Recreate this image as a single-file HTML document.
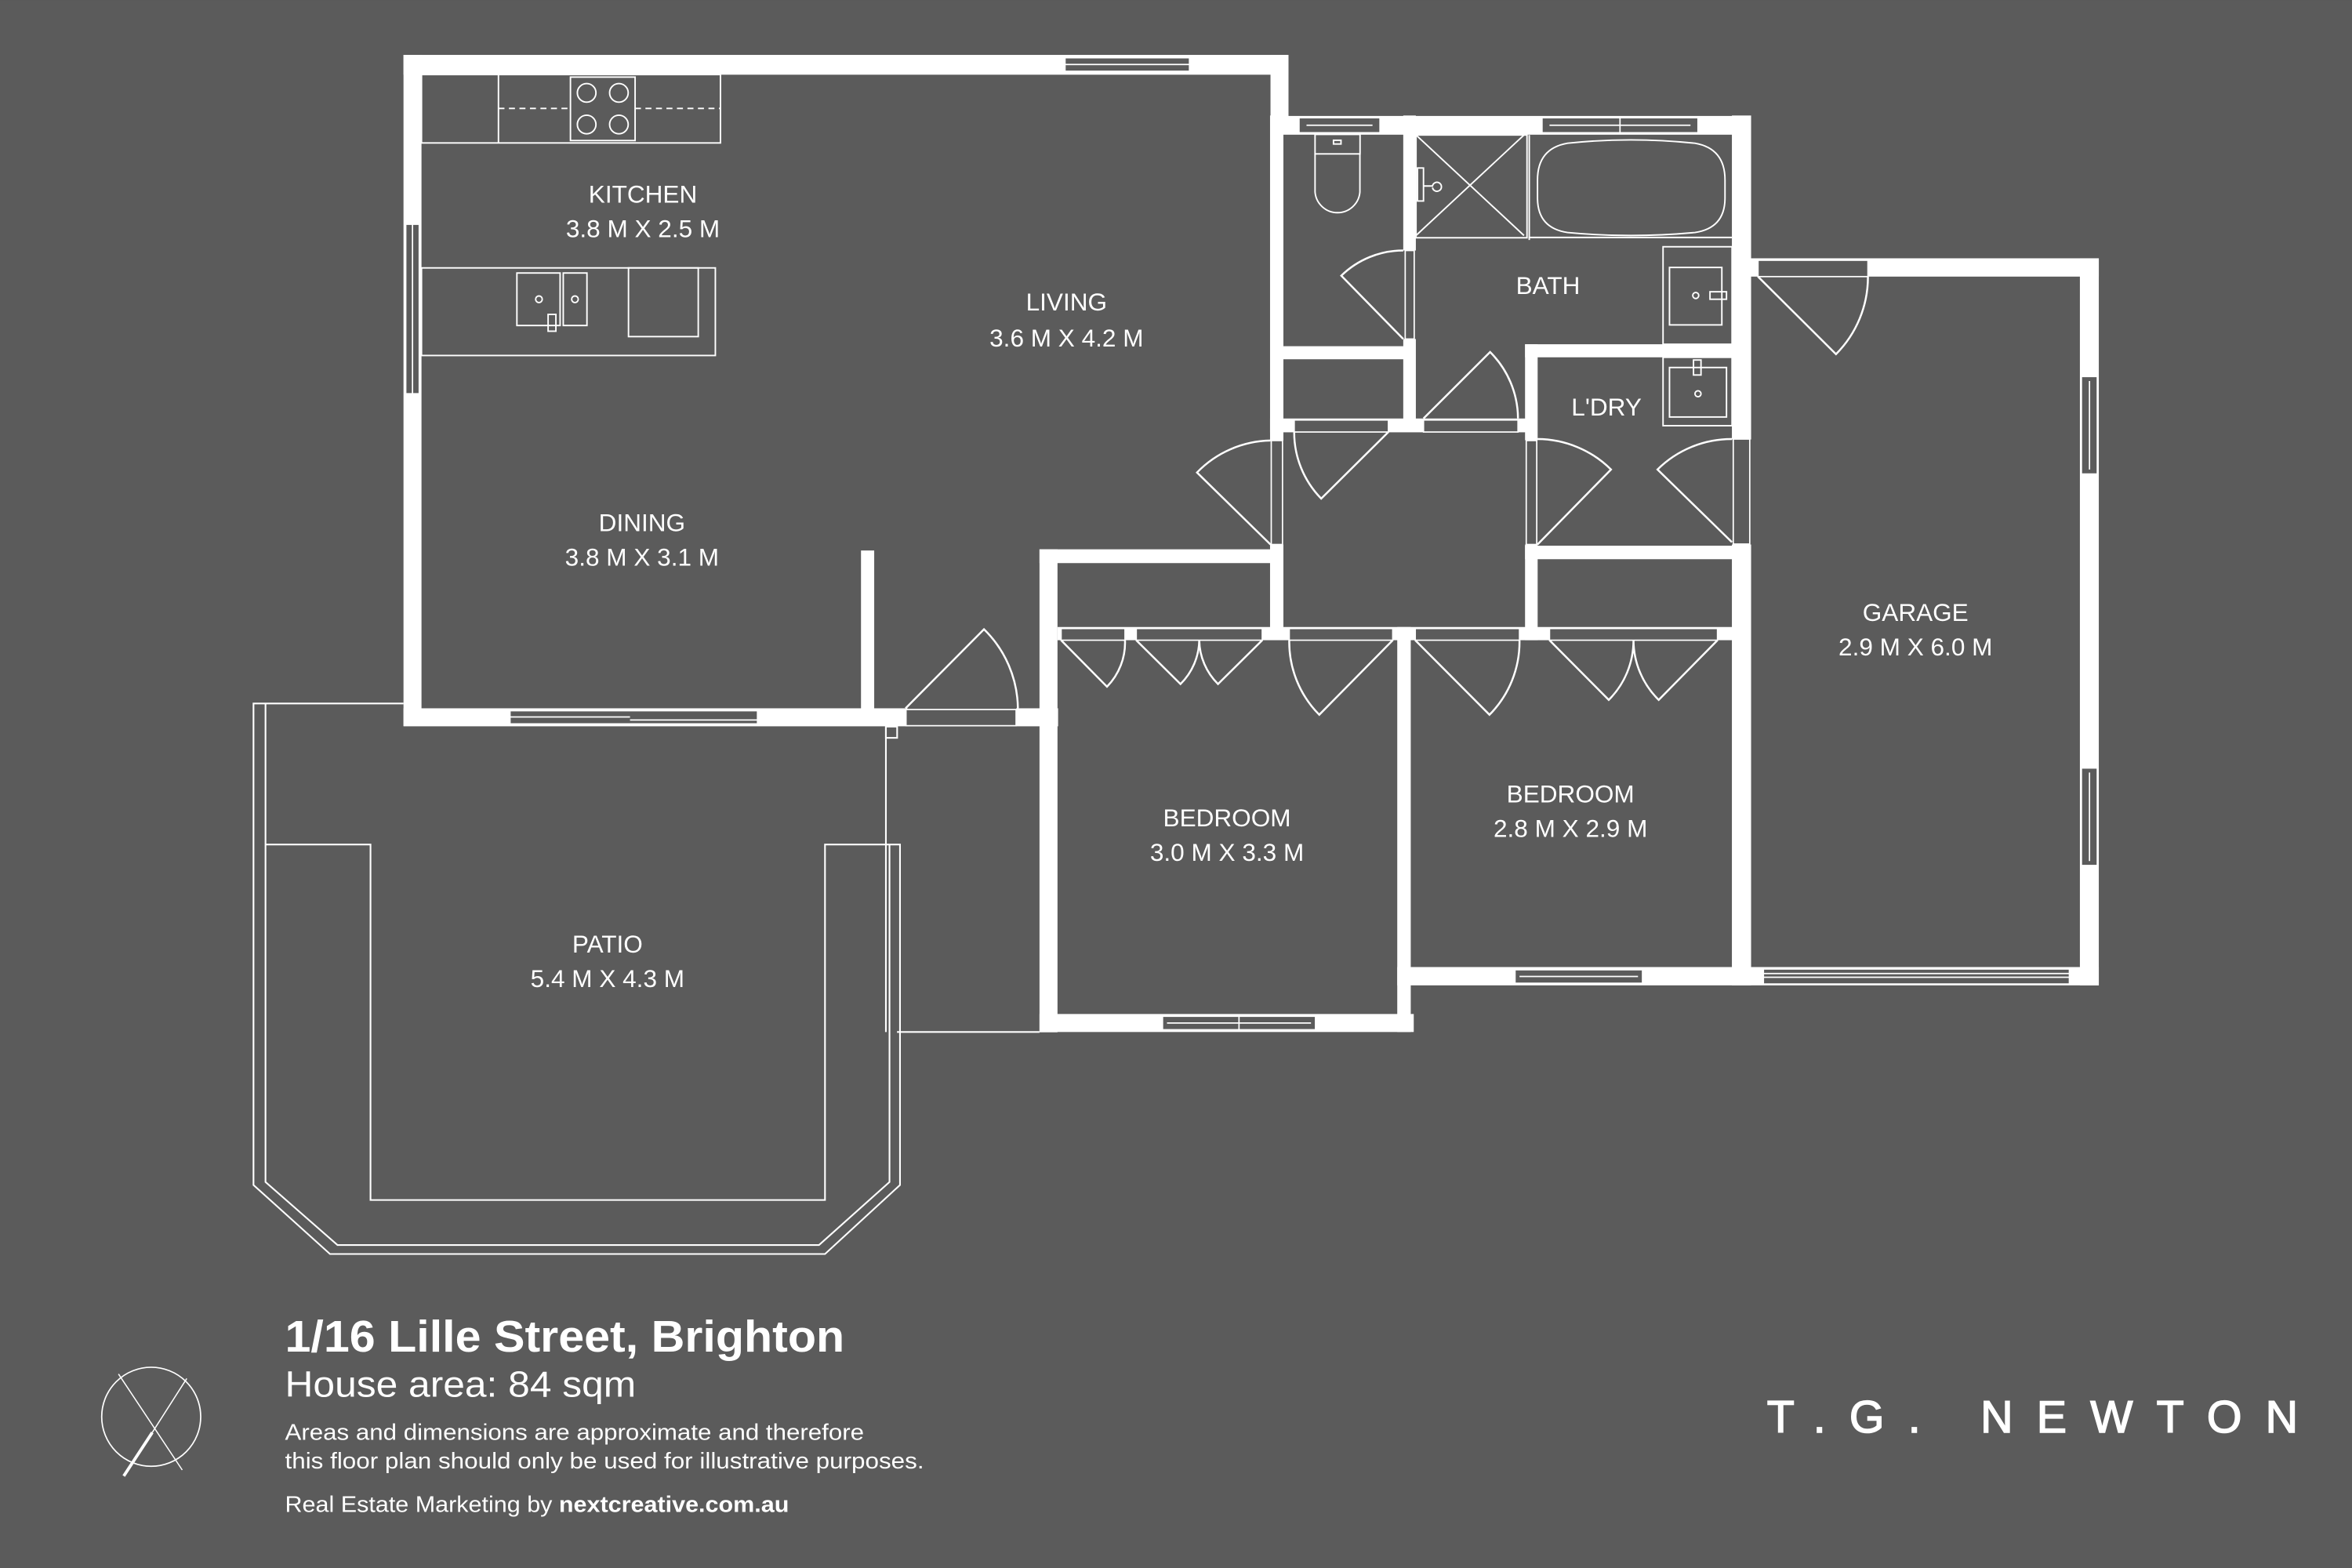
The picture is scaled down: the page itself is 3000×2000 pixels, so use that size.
<!DOCTYPE html>
<html><head><meta charset="utf-8"><style>
html,body{margin:0;padding:0;background:#5b5b5b;}
svg{display:block;}
</style></head><body>
<svg width="3000" height="2000" viewBox="0 0 1568 1045.33" xmlns="http://www.w3.org/2000/svg">
<rect x="0" y="0" width="1568" height="1046" fill="#5b5b5b"/>

<!-- Patio outlines -->
<g fill="none" stroke="#fff" stroke-width="1.1">
<polyline points="269,469 169,469 169,790 220,836 550,836 600,790 600,563 593,563"/>
<polyline points="177,469 177,788 225,830 546,830 593,788 593,563"/>
<polyline points="177,563 247,563 247,800 550,800 550,563 593,563"/>
<line x1="590.6" y1="484" x2="590.6" y2="688"/>
<line x1="598" y1="688" x2="693" y2="688"/>
<rect x="590.6" y="484.4" width="7.5" height="7.5"/>
</g>

<!-- WALLS -->
<g fill="#fff">
<rect x="269" y="36.6" width="590" height="13.2"/>
<rect x="269" y="36.6" width="12" height="447.4"/>
<rect x="269" y="472.2" width="336" height="12"/>
<rect x="574" y="367" width="8.8" height="117"/>
<rect x="677.4" y="472.2" width="28" height="12"/>
<rect x="847" y="36.6" width="12" height="53"/>
<rect x="847" y="77.3" width="320" height="12.5"/>
<rect x="846.7" y="77" width="8.9" height="216.7"/>
<rect x="846.7" y="363" width="8.9" height="63"/>
<rect x="935.5" y="77" width="8.4" height="90"/>
<rect x="935.5" y="226" width="8.4" height="62"/>
<rect x="855" y="230.8" width="81" height="8.7"/>
<rect x="846.7" y="279" width="178" height="9.2"/>
<rect x="1016.7" y="229.5" width="8.4" height="64"/>
<rect x="1016.7" y="363" width="8.4" height="63.8"/>
<rect x="1016.7" y="229.5" width="140" height="8.7"/>
<rect x="1016.7" y="363.8" width="140" height="9"/>
<rect x="1154.6" y="77" width="12.8" height="216"/>
<rect x="1154.6" y="363" width="12.8" height="293.9"/>
<rect x="1155" y="172.2" width="244.2" height="12.2"/>
<rect x="1386.6" y="172.2" width="12.6" height="484.7"/>
<rect x="931.5" y="644.7" width="467.7" height="12.2"/>
<rect x="693" y="366.2" width="162" height="9.2"/>
<rect x="693" y="366.2" width="12" height="322"/>
<rect x="693" y="676" width="249.5" height="12"/>
<rect x="931.5" y="418" width="9" height="270"/>
<rect x="705" y="418" width="462" height="8.8"/>
</g>

<!-- windows / openings -->
<g fill="#5b5b5b" stroke="#fff" stroke-width="0.9">
<rect x="710" y="38.5" width="83" height="9"/><line x1="710" y1="43" x2="793" y2="43"/>
<rect x="270.5" y="149.5" width="9" height="113"/><line x1="275" y1="149.5" x2="275" y2="262.5"/>
<rect x="340" y="473.8" width="165" height="8.8"/><line x1="340" y1="478" x2="420" y2="478"/><line x1="420" y1="480" x2="505" y2="480"/>
<rect x="604" y="473" width="73.4" height="10.8"/>
<rect x="866" y="78.5" width="54" height="10"/><line x1="871" y1="83.5" x2="915" y2="83.5"/>
<rect x="1028" y="78.5" width="104" height="10"/><line x1="1033" y1="83.5" x2="1127" y2="83.5"/><line x1="1080" y1="78.5" x2="1080" y2="88.5"/>
<rect x="936.8" y="167" width="6" height="59"/>
<rect x="862.8" y="280" width="62.8" height="8"/>
<rect x="949" y="280" width="63" height="8"/>
<rect x="847.5" y="293.7" width="7.5" height="69.3"/>
<rect x="1017.5" y="293.7" width="7" height="69.3"/>
<rect x="1155.5" y="292.7" width="11" height="70"/>
<rect x="1172" y="173.5" width="73.3" height="10.9"/>
<rect x="1387.6" y="251" width="10.6" height="65"/><line x1="1393" y1="254" x2="1393" y2="313"/>
<rect x="1387.6" y="512" width="10.6" height="65"/><line x1="1393" y1="515" x2="1393" y2="574"/>
<rect x="1010" y="646.5" width="85" height="9"/><line x1="1013" y1="651" x2="1092" y2="651"/>
<rect x="775" y="677.5" width="102" height="9"/><line x1="778" y1="682" x2="874" y2="682"/><line x1="826" y1="677.5" x2="826" y2="686.5"/>
<rect x="1175.6" y="646" width="204" height="10"/><line x1="1175.6" y1="649" x2="1379.6" y2="649"/><line x1="1175.6" y1="651.5" x2="1379.6" y2="651.5"/>
<rect x="707.4" y="419" width="42.6" height="7.8"/>
<rect x="757.5" y="419" width="84" height="7.8"/>
<rect x="859.5" y="419" width="69" height="7.8"/>
<rect x="943.5" y="419" width="69.5" height="7.8"/>
<rect x="1033" y="419" width="112" height="7.8"/>
</g>

<!-- doors -->
<g fill="none" stroke="#fff" stroke-width="1.3">
<path d="M603.7,472.2 L656,419.5 A75,75 0 0 1 678.6,472.2"/>
<path d="M847,363 L798,315 A70,70 0 0 1 847,293.7"/>
<path d="M935.5,226 L894.2,183.8 A59,59 0 0 1 935.5,167"/>
<path d="M925.6,288 L880.8,332.4 A63,63 0 0 1 862.8,288"/>
<path d="M949,279 L993.4,234.7 A63,63 0 0 1 1012,279"/>
<path d="M1025,363 L1074,313 A70,70 0 0 0 1025,292.7"/>
<path d="M1154.6,361.4 L1105,313 A70,70 0 0 1 1154.6,292.7"/>
<path d="M1172,184.4 L1224,236.1 A73,73 0 0 0 1245.3,184.4"/>
<path d="M707.4,426.8 L738,457.8 A42,42 0 0 0 750,426.8"/>
<path d="M757.5,426.8 L787,456 A42,42 0 0 0 799.5,426.8 A42,42 0 0 0 812,456 L841.5,426.8"/>
<path d="M928.5,426.8 L879.5,476.5 A69,69 0 0 1 859.5,426.8"/>
<path d="M943.5,426.8 L993,476.5 A69,69 0 0 0 1013,426.8"/>
<path d="M1033,426.8 L1072.5,466.6 A56,56 0 0 0 1089,426.8 A56,56 0 0 0 1105.8,466.6 L1145,426.8"/>
</g>

<g fill="none" stroke="#fff" stroke-width="1">
<rect x="281" y="49.7" width="199.3" height="45.6"/>
<line x1="332.3" y1="49.7" x2="332.3" y2="95.3"/>
<line x1="332.3" y1="72.3" x2="480" y2="72.3" stroke-dasharray="4,3"/>
<rect x="380.3" y="51.4" width="43.1" height="42.3" fill="#5b5b5b"/>
<circle cx="391.1" cy="61.9" r="6.2"/><circle cx="412.6" cy="61.9" r="6.2"/>
<circle cx="391.1" cy="83" r="6.2"/><circle cx="412.6" cy="83" r="6.2"/>
<rect x="281" y="178.6" width="195.9" height="58.4"/>
<rect x="344.6" y="182" width="28.8" height="35"/>
<rect x="375.5" y="182" width="15.8" height="35"/>
<circle cx="359.3" cy="199.5" r="2.2"/><circle cx="383.3" cy="199.5" r="2.2"/>
<rect x="365.4" y="209.6" width="5.2" height="11.2"/>
<rect x="419" y="178.6" width="46.5" height="45.8"/>
<rect x="876.7" y="89.6" width="30" height="13"/>
<rect x="889" y="93.5" width="5" height="2.5"/>
<path d="M876.7,102.6 V128 A15,15 0 0 0 906.6,128 V102.6"/>
<rect x="944" y="90" width="74" height="68.5"/>
<line x1="944" y1="90" x2="1016" y2="157"/><line x1="1016" y1="90" x2="944" y2="157"/>
<rect x="945" y="112" width="4" height="22"/>
<path d="M949,124 h6 a3,3 0 1 1 0,1"/>
<line x1="1019.5" y1="90" x2="1019.5" y2="160"/>
<line x1="1019" y1="158.3" x2="1154.6" y2="158.3"/>
<path d="M1045,95.5 Q1087,91 1130,95.5 Q1150,99 1150,120 V132 Q1150,152 1130,155 Q1087,159 1045,155 Q1025,152 1025,132 V120 Q1025,99 1045,95.5 Z"/>
<rect x="1108.7" y="164.5" width="46" height="65"/>
<rect x="1113" y="178.3" width="34.9" height="38.3"/>
<circle cx="1130.5" cy="197" r="2"/>
<rect x="1140" y="194.5" width="11" height="5"/>
<rect x="1108.7" y="238.2" width="46" height="45.6"/>
<rect x="1113" y="245" width="38" height="33"/>
<circle cx="1132" cy="262.5" r="2"/>
<rect x="1129" y="240" width="5" height="10"/>
</g>

<g fill="#fff" font-family="'Liberation Sans', sans-serif" font-size="16.5" text-anchor="middle">
<text x="428.6" y="135">KITCHEN</text><text x="428.6" y="158">3.8 M X 2.5 M</text>
<text x="711" y="207">LIVING</text><text x="711" y="231">3.6 M X 4.2 M</text>
<text x="428" y="354">DINING</text><text x="428" y="377">3.8 M X 3.1 M</text>
<text x="1032" y="196">BATH</text>
<text x="1071" y="277">L'DRY</text>
<text x="1277" y="414">GARAGE</text><text x="1277" y="437">2.9 M X 6.0 M</text>
<text x="818" y="551">BEDROOM</text><text x="818" y="574">3.0 M X 3.3 M</text>
<text x="1047" y="535">BEDROOM</text><text x="1047" y="558">2.8 M X 2.9 M</text>
<text x="405" y="635">PATIO</text><text x="405" y="658">5.4 M X 4.3 M</text>
</g>

<g stroke="#fff" fill="none">
<circle cx="100.8" cy="944.5" r="33" stroke-width="0.9"/>
<line x1="79" y1="916" x2="121.5" y2="980" stroke-width="0.8"/>
<line x1="124.5" y1="919" x2="101.5" y2="955" stroke-width="0.8"/>
<line x1="101.5" y1="955" x2="82.5" y2="984" stroke-width="2"/>
</g>

<g fill="#fff" font-family="'Liberation Sans', sans-serif">
<text x="190" y="901" font-size="29.5" font-weight="bold" textLength="373" lengthAdjust="spacingAndGlyphs">1/16 Lille Street, Brighton</text>
<text x="190" y="931" font-size="24" textLength="234" lengthAdjust="spacingAndGlyphs">House area: 84 sqm</text>
<text x="190" y="960" font-size="15" textLength="386" lengthAdjust="spacingAndGlyphs">Areas and dimensions are approximate and therefore</text>
<text x="190" y="979" font-size="15" textLength="426" lengthAdjust="spacingAndGlyphs">this floor plan should only be used for illustrative purposes.</text>
<text x="190" y="1008" font-size="15" textLength="336" lengthAdjust="spacingAndGlyphs">Real Estate Marketing by <tspan font-weight="bold">nextcreative.com.au</tspan></text>
<text x="1178" y="955" font-size="30" stroke="#fff" stroke-width="0.8" textLength="354" lengthAdjust="spacing">T.G. NEWTON</text>
</g>
</svg>
</body></html>
